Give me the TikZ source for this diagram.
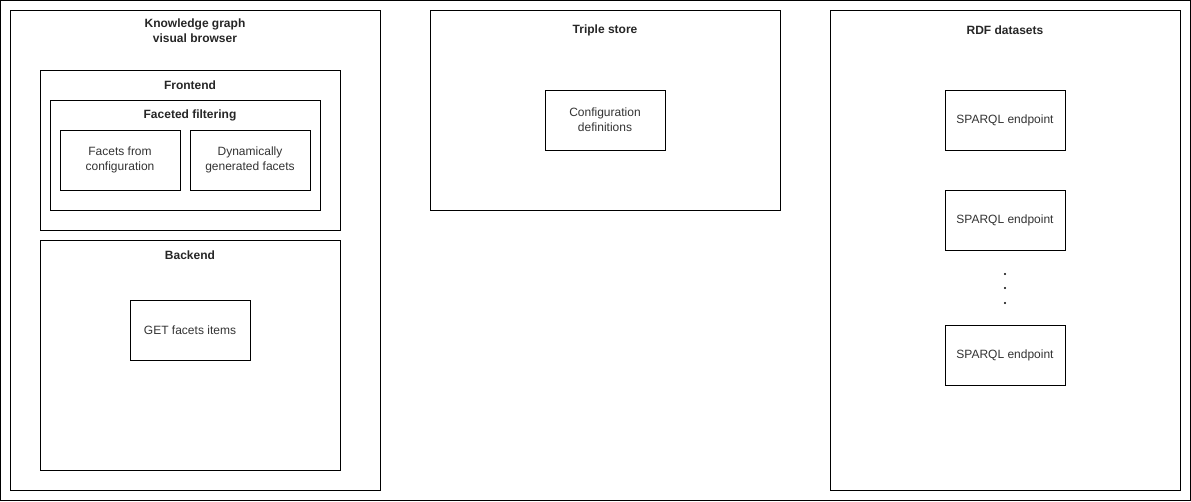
\documentclass[tikz,border=0pt]{standalone}
\usepackage{fontspec}
\setmainfont{Liberation Sans}
\begin{document}
\begin{tikzpicture}[x=1pt,y=-1pt,
  box/.style={draw, line width=1pt, anchor=north west, inner sep=0pt, outer sep=0pt},
  ttl/.style={font=\fontsize{12}{15}\selectfont\bfseries, align=center, text=black!85, inner sep=0pt},
  lbl/.style={font=\fontsize{12}{15}\selectfont, align=center, text=black!80, inner sep=0pt},
  dot/.style={circle, fill=black, inner sep=0pt, minimum size=2.4pt}]
\useasboundingbox (0,0) rectangle (1191,501);
\node[box, minimum width=1190pt, minimum height=500pt] (frame) at (0.5,0.5) {};
% Knowledge graph visual browser
\node[box, minimum width=370pt, minimum height=480pt] (kg) at (10,10) {};
\node[ttl] (kgt) at (195,31) {Knowledge graph\\visual browser};
\node[box, minimum width=300pt, minimum height=160pt] (fe) at (40,70) {};
\node[ttl] (fet) at (190,85.5) {Frontend};
\node[box, minimum width=270pt, minimum height=110pt] (ff) at (50,100) {};
\node[ttl] (fft) at (190,115.5) {Faceted filtering};
\node[box, minimum width=120pt, minimum height=60pt] (fc) at (60,130) {};
\node[lbl] at (fc.center) {Facets from\\configuration};
\node[box, minimum width=120pt, minimum height=60pt] (dg) at (190,130) {};
\node[lbl] at (dg.center) {Dynamically\\generated facets};
\node[box, minimum width=300pt, minimum height=230pt] (be) at (40,240) {};
\node[ttl] (bet) at (190,255.5) {Backend};
\node[box, minimum width=120pt, minimum height=60pt] (get) at (130,300) {};
\node[lbl] at (get.center) {GET facets items};
% Triple store
\node[box, minimum width=350pt, minimum height=200pt] (ts) at (430,10) {};
\node[ttl] (tst) at (605,30.5) {Triple store};
\node[box, minimum width=120pt, minimum height=60pt] (cd) at (545,90) {};
\node[lbl] at (cd.center) {Configuration\\definitions};
% RDF datasets
\node[box, minimum width=350pt, minimum height=480pt] (rdf) at (830,10) {};
\node[ttl] (rdft) at (1005,30.5) {RDF datasets};
\node[box, minimum width=120pt, minimum height=60pt] (sp1) at (945,90) {};
\node[lbl] at (sp1.center) {SPARQL endpoint};
\node[box, minimum width=120pt, minimum height=60pt] (sp2) at (945,190) {};
\node[lbl] at (sp2.center) {SPARQL endpoint};
\node[box, minimum width=120pt, minimum height=60pt] (sp3) at (945,325) {};
\node[lbl] at (sp3.center) {SPARQL endpoint};
\node[dot] (d1) at (1005,274) {};
\node[dot] (d2) at (1005,288) {};
\node[dot] (d3) at (1005,303) {};
\end{tikzpicture}
\end{document}
